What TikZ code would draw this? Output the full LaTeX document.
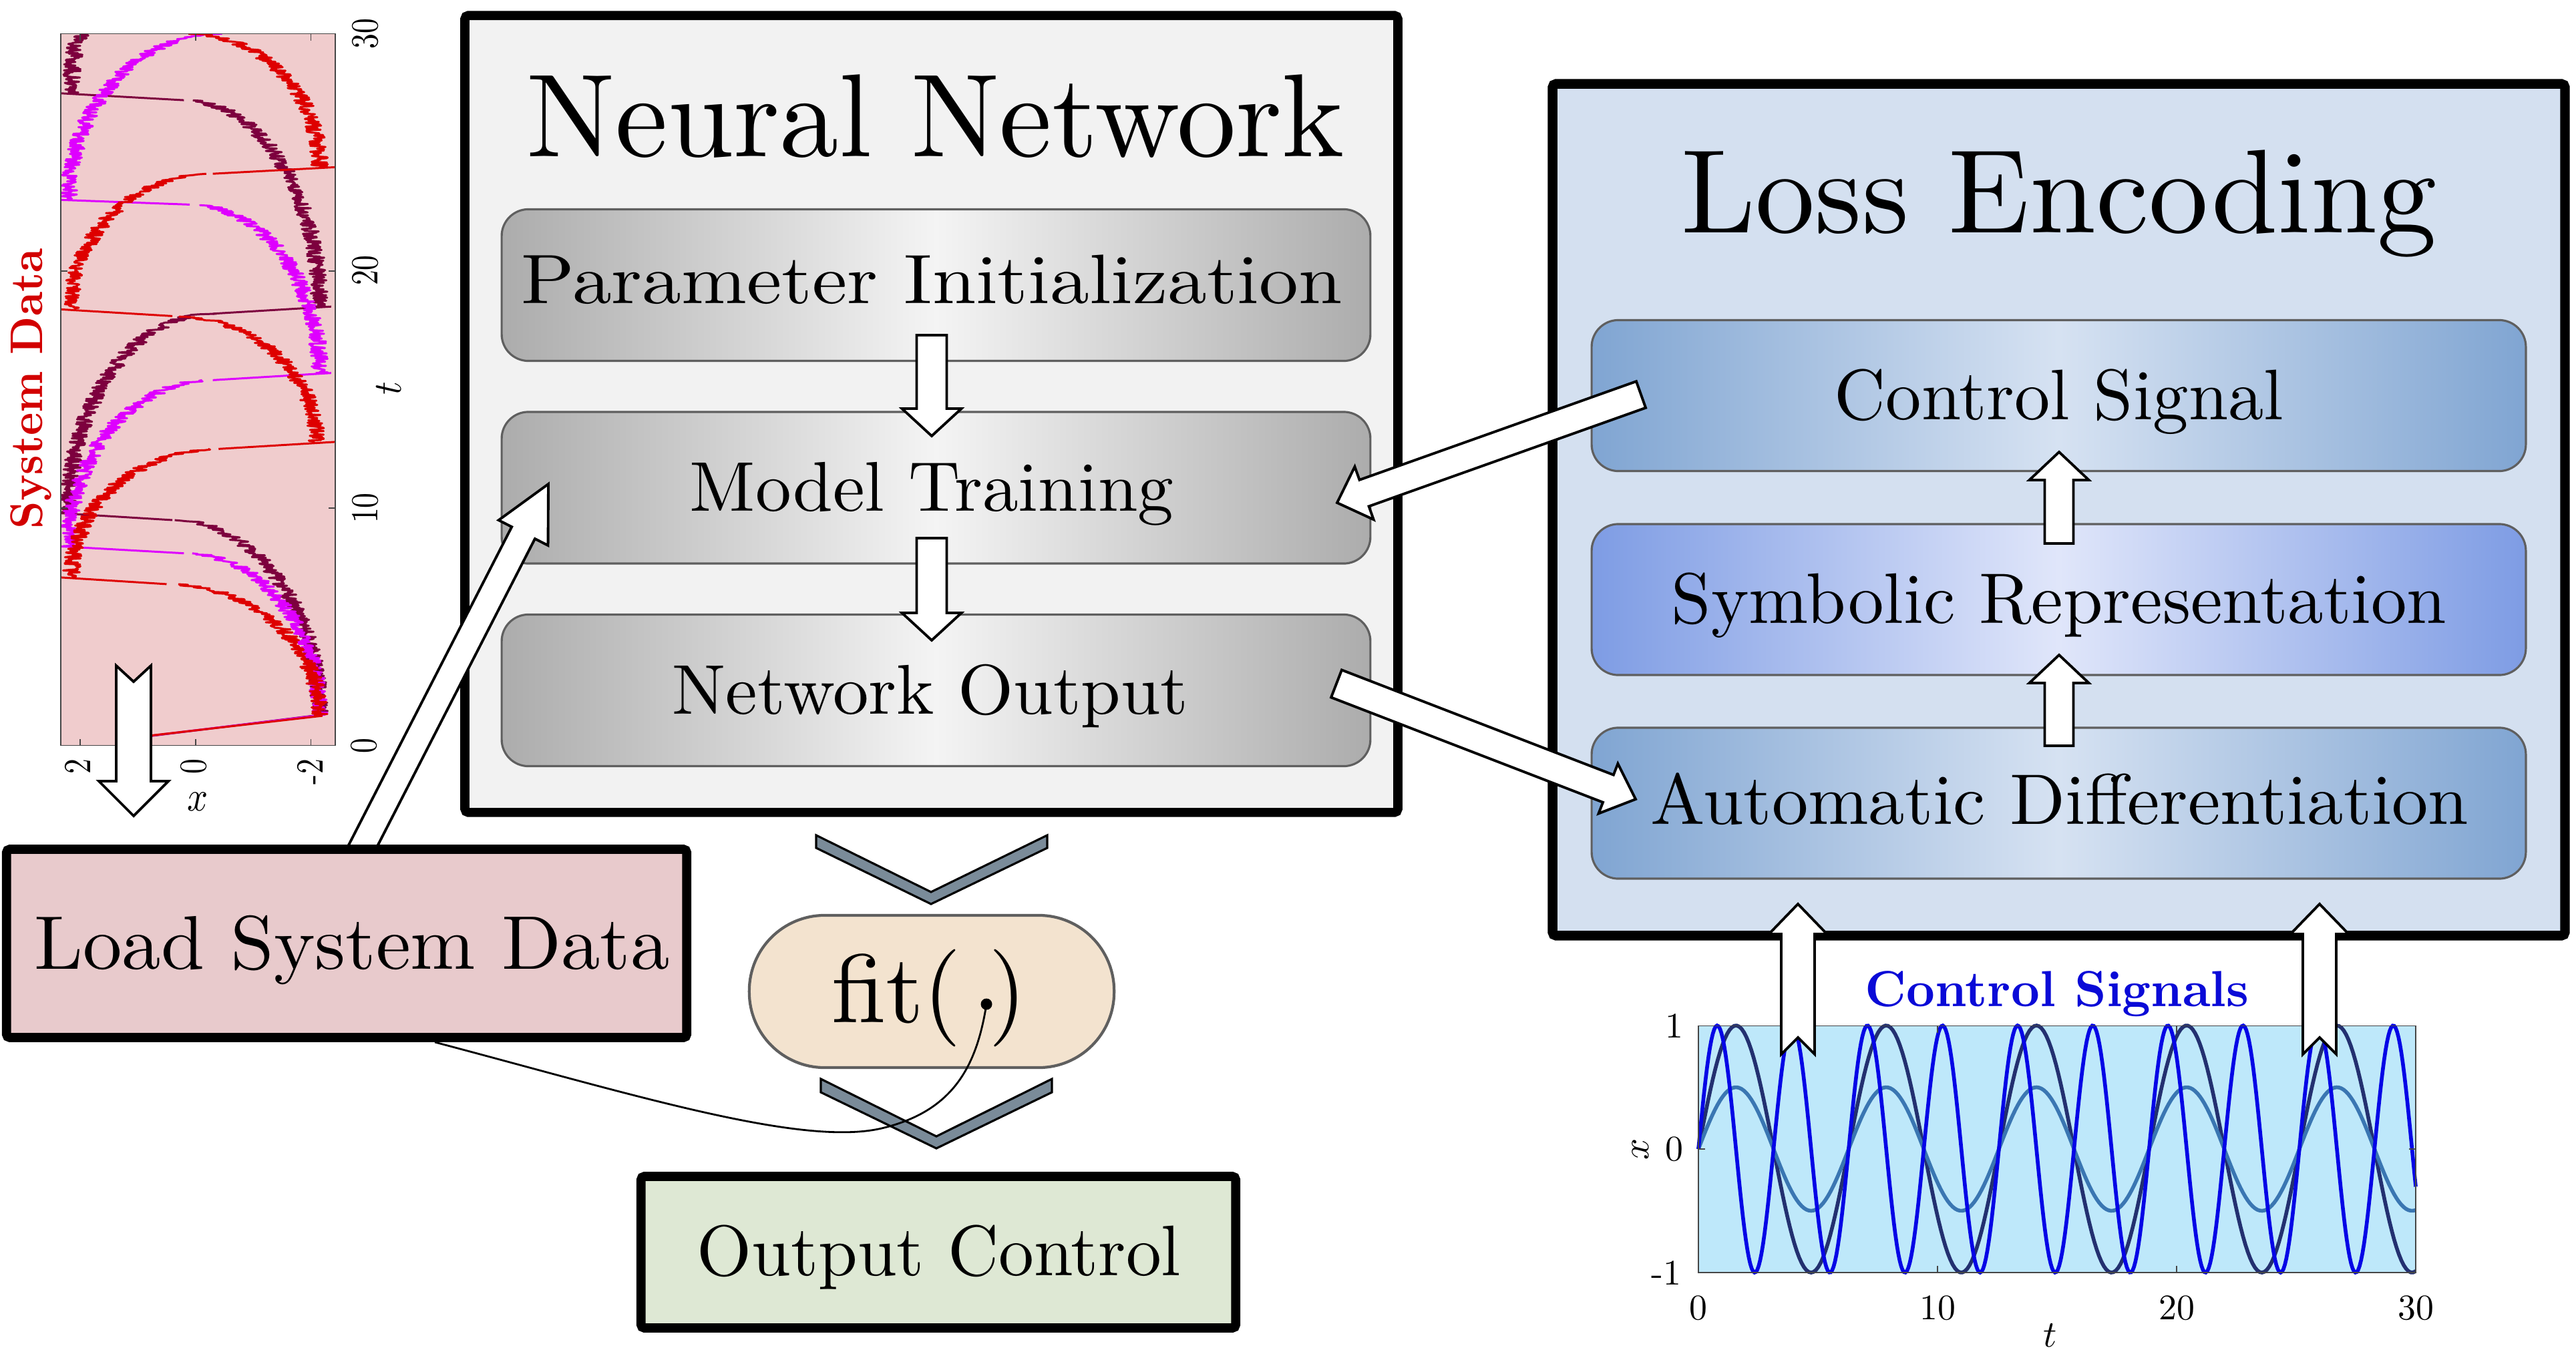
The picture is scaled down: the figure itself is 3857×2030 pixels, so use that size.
\documentclass[tikz,border=0pt]{standalone}
\usepackage{graphicx}
\usetikzlibrary{calc}
\definecolor{nnbg}{RGB}{242,242,242}
\definecolor{nnedge}{RGB}{172,172,172}
\definecolor{nnmid}{RGB}{244,244,244}
\definecolor{boxline}{RGB}{95,95,95}
\definecolor{lebg}{RGB}{212,224,240}
\definecolor{leedge}{RGB}{128,165,210}
\definecolor{lemid}{RGB}{214,226,242}
\definecolor{sredge}{RGB}{126,156,228}
\definecolor{srmid}{RGB}{224,230,250}
\definecolor{lsdfill}{RGB}{232,202,204}
\definecolor{ocfill}{RGB}{222,232,212}
\definecolor{fitfill}{RGB}{243,227,207}
\definecolor{chevfill}{RGB}{122,139,153}
\definecolor{sdbg}{RGB}{240,204,205}
\definecolor{csbg}{RGB}{190,232,250}
\definecolor{tred}{RGB}{222,0,0}
\definecolor{tmaroon}{RGB}{125,0,62}
\definecolor{tmag}{RGB}{222,0,255}
\definecolor{sblue}{RGB}{5,5,230}
\definecolor{snavy}{RGB}{35,48,112}
\definecolor{ssteel}{RGB}{58,118,178}
\definecolor{cstext}{RGB}{10,10,215}
\definecolor{sdtext}{RGB}{210,0,0}
\definecolor{axisgray}{RGB}{70,70,70}
\newcommand{\sx}[3]{\scalebox{#1}[#2]{#3}}
% block arrow: #1 tail, #2 tip, #3 half shaft, #4 half head, #5 head length, #6 notch depth
\newcommand{\blockarrow}[6]{%
  \coordinate (bah) at ($(#2)!#5!(#1)$);
  \coordinate (ban) at ($(#1)!#6!(#2)$);
  \draw[barrow] ($(#1)!#3!90:(#2)$) -- (ban) -- ($(#1)!#3!-90:(#2)$)
    -- ($(bah)!#3!90:(#1)$) -- ($(bah)!#4!90:(#1)$) -- (#2)
    -- ($(bah)!#4!-90:(#1)$) -- ($(bah)!#3!-90:(#1)$) -- cycle;
}
% slow noisy phase (quarter-ellipse drift): colour, t0, t1, x start, x end
\newcommand{\slowph}[5]{%
  \pgfmathtruncatemacro{\nsamp}{40*(#3-#2)}%
  \draw[#1,trace] plot[domain=#2:#3,samples=\nsamp,variable=\t]
   ({292.7-86.45*((#4)+((#5)-(#4))*(1-sqrt(max(0,1-((\t-#2)/(#3-#2))^2)))+0.15*rand)},{1116.5-35.53*\t});
}
% fast jump: colour, t_a, x_a, t_b, x_b
\newcommand{\jumpph}[5]{%
  \draw[#1,trace] ({292.7-86.45*(#3)},{1116.5-35.53*(#2)}) -- ({292.7-86.45*(#5)},{1116.5-35.53*(#4)});
}
\begin{document}
\begin{tikzpicture}[x=0.01cm,y=-0.01cm,
  bigbox/.style={draw=black,line width=3.9pt,rounded corners=1.5pt,inner sep=0pt},
  innerbox/.style={draw=boxline,line width=0.9pt,rounded corners=0.4cm,inner sep=0pt,minimum width=13cm,minimum height=2.27cm},
  lbl/.style={inner sep=0pt,anchor=base},
  tick/.style={inner sep=0pt,anchor=center},
  barrow/.style={draw=black,fill=white,line width=1.1pt,line join=miter},
  chev/.style={draw=black,fill=chevfill,line width=0.9pt,line join=miter},
  trace/.style={line width=0.85pt,line join=round},
  sig/.style={line width=1.6pt},
  axisbox/.style={draw=axisgray,line width=0.5pt},
]
\useasboundingbox (0,0) rectangle (3857,2030);

% ---------- main boxes ----------
\node[bigbox,fill=nnbg,minimum width=13.96cm,minimum height=11.93cm] (nn) at (1394.5,620) {};
\node[bigbox,fill=lebg,line width=4.1pt,minimum width=15.15cm,minimum height=12.75cm] (le) at (3082.5,763.5) {};

\node[innerbox,left color=nnedge,right color=nnedge,middle color=nnmid] (pi) at (1401.5,427) {};
\node[innerbox,left color=nnedge,right color=nnedge,middle color=nnmid] (mt) at (1401.5,730.5) {};
\node[innerbox,left color=nnedge,right color=nnedge,middle color=nnmid] (no) at (1401.5,1034) {};

\node[innerbox,minimum width=13.98cm,minimum height=2.26cm,left color=leedge,right color=leedge,middle color=lemid] (cs) at (3082.5,592.5) {};
\node[innerbox,minimum width=13.98cm,minimum height=2.26cm,left color=sredge,right color=sredge,middle color=srmid] (sr) at (3082.5,898) {};
\node[innerbox,minimum width=13.98cm,minimum height=2.26cm,left color=leedge,right color=leedge,middle color=lemid] (ad) at (3082.5,1203) {};

\node[lbl] (nnt) at (1401,234) {\sx{5.03}{5.03}{Neural Network}};
\node[lbl] (let) at (3083,348) {\sx{5.07}{5.07}{Loss Encoding}};
\node[lbl] (pit) at (1395,454) {\sx{3.34}{2.98}{Parameter Initialization}};
\node[lbl] (mtt) at (1395,765) {\sx{3.05}{3.0}{Model Training}};
\node[lbl] (not) at (1393,1069) {\sx{3.04}{3.0}{Network Output}};
\node[lbl] (cst) at (3083,628) {\sx{3.03}{3.05}{Control Signal}};
\node[lbl] (srt) at (3083,933) {\sx{3.04}{3.05}{Symbolic Representation}};
\node[lbl] (adt) at (3084,1234) {\sx{3.09}{3.05}{Automatic Differentiation}};

% ---------- system data plot ----------
\fill[sdbg] (91,50.5) rectangle (502,1116.5);
\begin{scope}
\clip (91,50.5) rectangle (502,1116.5);
\pgfmathsetseed{4242}
% maroon
\jumpph{tmaroon}{0.3}{1.1}{1.3}{-2.2}
\slowph{tmaroon}{1.3}{9.5}{-2.15}{0.4}
\jumpph{tmaroon}{9.5}{0.4}{9.8}{2.4}
\slowph{tmaroon}{9.8}{18.2}{2.2}{-0.3}
\jumpph{tmaroon}{18.2}{-0.3}{18.5}{-2.35}
\slowph{tmaroon}{18.5}{27.2}{-2.15}{0.2}
\jumpph{tmaroon}{27.2}{0.2}{27.5}{2.4}
\slowph{tmaroon}{27.5}{30}{2.15}{1.95}
% magenta
\jumpph{tmag}{0.3}{1.15}{1.3}{-2.25}
\slowph{tmag}{1.3}{8.1}{-2.15}{0.2}
\jumpph{tmag}{8.1}{0.2}{8.4}{2.4}
\slowph{tmag}{8.4}{15.4}{2.2}{-0.3}
\jumpph{tmag}{15.4}{-0.3}{15.7}{-2.35}
\slowph{tmag}{15.7}{22.8}{-2.15}{0.1}
\jumpph{tmag}{22.8}{0.1}{23.0}{2.35}
\slowph{tmag}{23.0}{30}{2.2}{-0.43}
% red
\jumpph{tred}{0.3}{1.2}{1.25}{-2.2}
\slowph{tred}{1.25}{6.8}{-2.15}{0.5}
\jumpph{tred}{6.8}{0.5}{7.1}{2.45}
\slowph{tred}{7.1}{12.5}{2.15}{-0.4}
\jumpph{tred}{12.5}{-0.4}{12.8}{-2.45}
\slowph{tred}{12.8}{18.1}{-2.1}{0.4}
\jumpph{tred}{18.1}{0.4}{18.4}{2.45}
\slowph{tred}{18.4}{24.1}{2.15}{-0.3}
\jumpph{tred}{24.1}{-0.3}{24.4}{-2.6}
\slowph{tred}{24.4}{30}{-2.15}{0.13}
\end{scope}
\draw[axisbox] (91,50.5) rectangle (502,1116.5);
\foreach \tv in {10,20} {
  \draw[axisbox] (91,{1116.5-35.53*\tv}) -- ++(10,0);
  \draw[axisbox] (502,{1116.5-35.53*\tv}) -- ++(-10,0);
}
\foreach \xv in {2,0,-2} {
  \draw[axisbox] ({292.7-86.45*\xv},1116.5) -- ++(0,-10);
  \draw[axisbox] ({292.7-86.45*\xv},50.5) -- ++(0,10);
}
\node[tick,rotate=90] (sd30) at (547,51) {\sx{1.3}{1.63}{30}};
\node[tick,rotate=90] (sd20) at (547,405) {\sx{1.3}{1.63}{20}};
\node[tick,rotate=90] (sd10) at (547,761) {\sx{1.3}{1.63}{10}};
\node[tick,rotate=90] (sd0) at (545,1117) {\sx{1.3}{1.63}{0}};
\node[tick,rotate=90] (sdx2) at (116,1148) {\sx{1.3}{1.63}{2}};
\node[tick,rotate=90] (sdx0) at (290,1148) {\sx{1.3}{1.63}{0}};
\node[tick,rotate=90] (sdxm2) at (464,1156) {\sx{1.3}{1.63}{-2}};
\node[tick] (sdxl) at (296,1201) {\sx{1.55}{1.8}{$x$}};
\node[tick,rotate=90] (sdtl) at (582,582) {\sx{1.55}{1.7}{$t$}};
\node[lbl,rotate=90,text=sdtext] (sdt) at (63,582) {\sx{1.85}{1.95}{\bfseries System Data}};

% ---------- control signals plot ----------
\fill[csbg] (2543,1536.5) rectangle (3617,1906);
\draw[snavy,sig] plot[domain=0:30,samples=300,variable=\t] ({2543+35.8*\t},{1721-185*sin(deg(\t))});
\draw[ssteel,sig] plot[domain=0:30,samples=300,variable=\t] ({2543+35.8*\t},{1721-92.5*sin(deg(\t))});
\draw[sblue,sig] plot[domain=0:30,samples=500,variable=\t] ({2543+35.8*\t},{1721-185*sin(deg(2*\t))});
\draw[axisbox] (2543,1536.5) rectangle (3617,1906);
\foreach \tv in {10,20} {
  \draw[axisbox] ({2543+35.8*\tv},1906) -- ++(0,-10);
  \draw[axisbox] ({2543+35.8*\tv},1536.5) -- ++(0,10);
}
\draw[axisbox] (2543,1721) -- ++(10,0);
\draw[axisbox] (3617,1721) -- ++(-10,0);
\node[tick] (cy1) at (2507,1537) {\sx{1.53}{1.53}{1}};
\node[tick] (cy0) at (2507,1721) {\sx{1.53}{1.53}{0}};
\node[tick] (cym1) at (2495,1907) {\sx{1.53}{1.53}{-1}};
\node[tick] (ct0) at (2543,1959) {\sx{1.53}{1.53}{0}};
\node[tick] (ct10) at (2901,1959) {\sx{1.53}{1.53}{10}};
\node[tick] (ct20) at (3259,1959) {\sx{1.53}{1.53}{20}};
\node[tick] (ct30) at (3617,1959) {\sx{1.53}{1.53}{30}};
\node[tick] (ctl) at (3070,2000) {\sx{1.6}{1.6}{$t$}};
\node[tick,rotate=90] (cxl) at (2456,1721) {\sx{1.6}{1.6}{$x$}};
\node[lbl,text=cstext] (cpt) at (3080,1507) {\sx{2.12}{2.16}{\bfseries Control Signals}};

% ---------- arrow end points ----------
\coordinate (a1s) at (1395,502);  \coordinate (a1e) at (1395,653);
\coordinate (a2s) at (1395,806);  \coordinate (a2e) at (1395,959);
\coordinate (a3s) at (3083,1117); \coordinate (a3e) at (3083,981);
\coordinate (a4s) at (3083,814);  \coordinate (a4e) at (3083,677);
\coordinate (a5s) at (511,1330);  \coordinate (a5e) at (821,725);
\coordinate (a6s) at (2457,591);  \coordinate (a6e) at (2002,753);
\coordinate (a7s) at (2001,1024); \coordinate (a7e) at (2449,1197);
\coordinate (a8s) at (200,997);   \coordinate (a8e) at (200,1222);
\coordinate (a9s) at (2692,1579); \coordinate (a9e) at (2692,1354);
\coordinate (a10s) at (3473,1579); \coordinate (a10e) at (3473,1354);

\blockarrow{a1s}{a1e}{0.225cm}{0.445cm}{0.41cm}{0cm}
\blockarrow{a2s}{a2e}{0.225cm}{0.445cm}{0.41cm}{0cm}
\blockarrow{a3s}{a3e}{0.215cm}{0.445cm}{0.42cm}{0cm}
\blockarrow{a4s}{a4e}{0.215cm}{0.445cm}{0.42cm}{0cm}
\blockarrow{a5s}{a5e}{0.195cm}{0.415cm}{0.82cm}{0cm}
\blockarrow{a6s}{a6e}{0.21cm}{0.42cm}{0.43cm}{0cm}
\blockarrow{a7s}{a7e}{0.22cm}{0.40cm}{0.44cm}{0cm}
\blockarrow{a8s}{a8e}{0.26cm}{0.52cm}{0.52cm}{0.24cm}
\blockarrow{a9s}{a9e}{0.25cm}{0.435cm}{0.45cm}{0.25cm}
\blockarrow{a10s}{a10e}{0.25cm}{0.435cm}{0.45cm}{0.25cm}

% ---------- lower boxes ----------
\node[bigbox,fill=lsdfill,minimum width=10.18cm,minimum height=2.82cm] (lsd) at (519,1413) {};
\node[lbl] (lsdt) at (527,1451) {\sx{3.32}{3.24}{Load System Data}};
\node[bigbox,fill=ocfill,minimum width=8.9cm,minimum height=2.27cm] (oc) at (1405,1875.5) {};
\node[lbl] (oct) at (1406,1910) {\sx{3.0}{3.05}{Output Control}};
\node[draw=boxline,line width=1.2pt,fill=fitfill,rounded corners=1.13cm,minimum width=5.46cm,minimum height=2.28cm,inner sep=0pt] (fit) at (1395,1485) {};
\node[lbl] (fitt) at (1391,1531) {\sx{4.15}{4.15}{fit(\phantom{,})}};

\draw[chev] (1222,1251) -- (1394,1336) -- (1568,1251) -- (1568,1270) -- (1394,1354) -- (1222,1270) -- cycle;
\draw[chev] (1229,1616) -- (1402,1702) -- (1575,1616) -- (1575,1636) -- (1402,1720) -- (1229,1636) -- cycle;

\coordinate (fitdot) at (1477,1504);
\draw[line width=0.8pt] ([xshift=1.32cm]lsd.south) .. controls (950,1640) and (1200,1718) .. (1320,1690) .. controls (1425,1665) and (1462,1600) .. (fitdot);
\fill (fitdot) circle[radius=0.085cm];
\end{tikzpicture}
\end{document}
